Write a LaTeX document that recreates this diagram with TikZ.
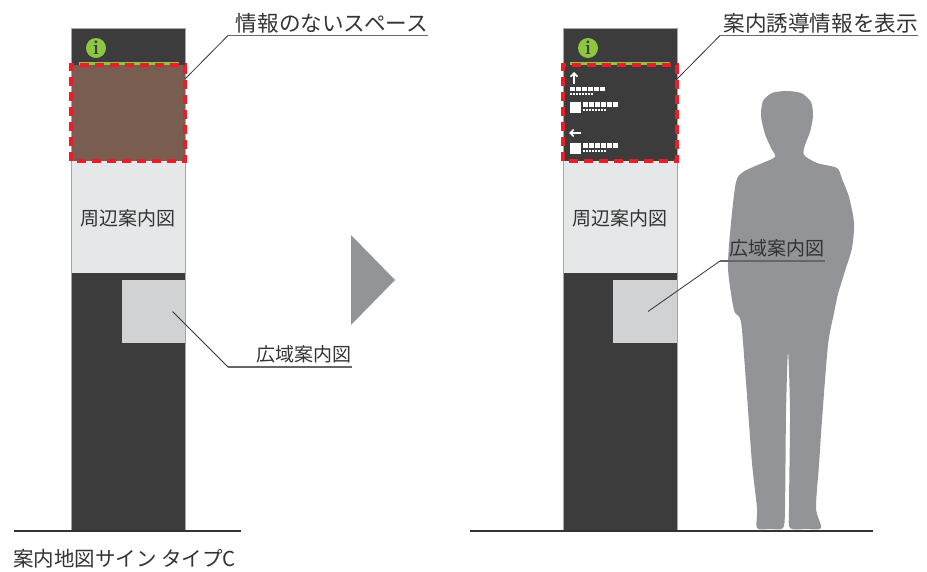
\documentclass[tikz,border=0pt]{standalone}
\usepackage{fontspec}
\newfontfamily\jp{Noto Sans CJK JP}
\usetikzlibrary{arrows.meta}
\definecolor{poledark}{HTML}{3C3C3C}
\definecolor{polelight}{HTML}{E6E7E8}
\definecolor{mapgray}{HTML}{D1D2D4}
\definecolor{blankbrown}{HTML}{7A5D51}
\definecolor{infogreen}{HTML}{8DC63F}
\definecolor{dashred}{HTML}{EE1C25}
\definecolor{figgray}{HTML}{929497}
\definecolor{inktext}{HTML}{333333}
\tikzset{
  panel/.style={draw=none, inner sep=0pt, outer sep=0pt, rectangle},
  poleedge/.style={draw=gray!70, line width=0.8pt},
  redframe/.style={draw=dashred, line width=3.2pt, dash pattern=on 9pt off 6pt},
  leader/.style={draw=inktext, line width=0.8pt},
  underline/.style={draw=gray!80!black, line width=1.4pt},
  label/.style={font=\jp\fontsize{21.6}{24}\selectfont, text=inktext, inner sep=0pt},
  smalllabel/.style={font=\jp\fontsize{19}{22}\selectfont, text=inktext, inner sep=0pt},
  ground/.style={draw=inktext, line width=1.6pt},
  infodot/.style={circle, fill=infogreen, minimum size=20pt, inner sep=0pt,
    font=\bfseries\fontsize{20}{20}\selectfont, text=poledark},
  glyphbar/.style={fill=white},
}
\begin{document}
\begin{tikzpicture}[x=1pt,y=-1pt]
\useasboundingbox (0,0) rectangle (927,571);

% ---------- left pole ----------
\node[panel, fill=poledark, minimum width=114pt, minimum height=502pt] (poleL) at (128,279) {};
\node[panel, fill=blankbrown, minimum width=114pt, minimum height=96pt] (blankL) at (128,113) {};
\node[panel, fill=polelight, minimum width=114pt, minimum height=112pt] (areaL) at (128,217) {};
\node[smalllabel] (areaLtxt) at (128,218) {周辺案内図};
\node[panel, fill=mapgray, minimum width=63pt, minimum height=63pt] (wideL) at (153.5,311.5) {};
\draw[poleedge] (poleL.south west) rectangle (poleL.north east);
\fill[infogreen] (79,61.5) rectangle (179,65);
\node[infodot] (infoL) at (96,48) {i};
\draw[redframe] (blankL.south west) rectangle (blankL.north east);

% ---------- right pole ----------
\node[panel, fill=poledark, minimum width=114pt, minimum height=502pt] (poleR) at (620,279) {};
\node[panel, fill=poledark, minimum width=114pt, minimum height=96pt] (guideR) at (620,113) {};
\node[panel, fill=polelight, minimum width=114pt, minimum height=112pt] (areaR) at (620,217) {};
\node[smalllabel] (areaRtxt) at (620,218) {周辺案内図};
\node[panel, fill=mapgray, minimum width=64pt, minimum height=63pt] (wideR) at (645,311.5) {};
\draw[poleedge] (poleR.south west) rectangle (poleR.north east);
\fill[infogreen] (570,61.5) rectangle (670,65);
\node[infodot] (infoR) at (588,48) {i};

% guidance content inside the upper panel
\draw[white, line width=1.6pt, -{Straight Barb[length=3.5pt,width=7pt]}] (574,84) -- (574,72);
\foreach \i in {0,...,5} \fill[glyphbar] (570+\i*6,86.5) rectangle ++(4.8,4.5);
\draw[white, line width=1.8pt, dash pattern=on 2.2pt off 0.8pt] (570,94) -- (593,94);

\fill[glyphbar] (570,102) rectangle (581,113);
\foreach \i in {0,...,5} \fill[glyphbar] (583+\i*6,102) rectangle ++(4.8,4.5);
\draw[white, line width=1.8pt, dash pattern=on 2.2pt off 0.8pt] (583,110) -- (606,110);

\draw[white, line width=1.6pt, -{Straight Barb[length=3.5pt,width=7pt]}] (581,133) -- (569,133);
\fill[glyphbar] (570,143) rectangle (581,154);
\foreach \i in {0,...,5} \fill[glyphbar] (583+\i*6,143) rectangle ++(4.8,4.5);
\draw[white, line width=1.8pt, dash pattern=on 2.2pt off 0.8pt] (583,151) -- (606,151);

\draw[redframe] (guideR.south west) rectangle (guideR.north east);

% ---------- transition arrow ----------
\fill[figgray] (351,235) -- (395,280) -- (351,325) -- cycle;

% ---------- person silhouette ----------
\fill[figgray] plot[smooth cycle, tension=0.45] coordinates {
 (786,91) (801,93) (811,102) (813,116) (810,132) (805,145) (804,155)
 (817,163) (837,168) (842,179) (849,197) (854,223) (852,248) (845,271)
 (838,294) (834,313) (828,345) (822,420) (819,465) (816,508) (821,528)
 (806,529) (790,528) (789,508) (790,413) (788,352)
 (786,413) (785,508) (783,528) (770,529) (757,528) (757,508) (752,463)
 (746,382) (741,322) (734,310) (728,268) (731,223) (736,182) (743,172)
 (760,164) (775,157) (771,148) (765,134) (761,116) (763,101) (772,93)};

% ---------- ground lines ----------
\coordinate (gL1) at (14,531); \coordinate (gL2) at (241,531);
\coordinate (gR1) at (470,531); \coordinate (gR2) at (873,531);
\draw[ground] (gL1) -- (gL2);
\draw[ground] (gR1) -- (gR2);

% ---------- callouts ----------
\node[label, anchor=base east] (lblBlank) at (428,31) {情報のないスペース};
\coordinate (kBlank) at (228,35.5);
\coordinate (eBlank) at (428,35.5);
\draw[leader] ([yshift=34pt]blankL.east) -- (kBlank);
\draw[underline] (kBlank) -- (eBlank);

\node[label, anchor=base east] (lblGuide) at (918,31) {案内誘導情報を表示};
\coordinate (kGuide) at (720,35.5);
\coordinate (eGuide) at (918,35.5);
\draw[leader] ([yshift=34pt]guideR.east) -- (kGuide);
\draw[underline] (kGuide) -- (eGuide);

\node[smalllabel, anchor=base east] (lblWideL) at (352,361) {広域案内図};
\coordinate (kWideL) at (228,367);
\coordinate (eWideL) at (352,367);
\draw[leader] ([xshift=19pt]wideL.center) -- (kWideL);
\draw[underline] (kWideL) -- (eWideL);

\node[smalllabel, anchor=base east] (lblWideR) at (825,255) {広域案内図};
\coordinate (kWideR) at (720,261);
\coordinate (eWideR) at (825,261);
\draw[leader] ([xshift=3pt]wideR.center) -- (kWideR);
\draw[underline] (kWideR) -- (eWideR);

% ---------- caption ----------
\node[smalllabel, font=\jp\fontsize{20.5}{23}\selectfont, anchor=base west] (caption) at (13,566) {案内地図サイン タイプC};
\end{tikzpicture}
\end{document}
